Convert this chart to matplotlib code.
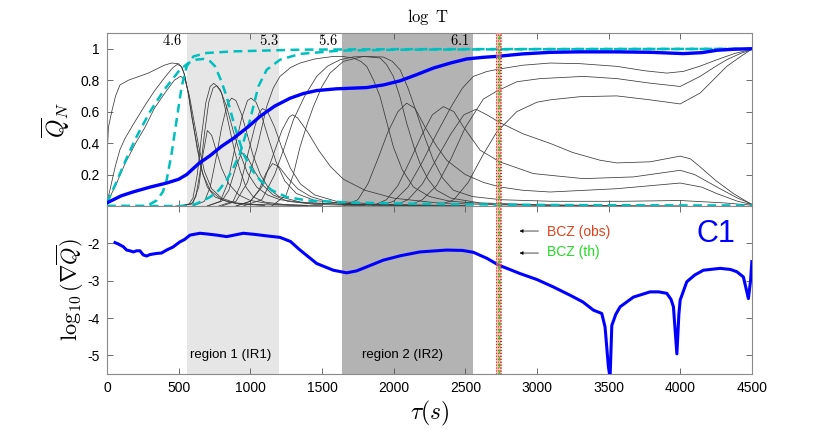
import numpy as np
import matplotlib.pyplot as plt

plt.rcParams['font.family'] = ['Liberation Sans', 'DejaVu Sans']
plt.rcParams['mathtext.fontset'] = 'cm'

# mean Q (thick blue), top panel
mean_tau = [0, 100, 184, 300, 416, 500, 556, 640, 719, 800, 882, 980, 1068, 1170, 1277,
            1370, 1463, 1600, 1812, 1930, 2045, 2160, 2277, 2400, 2510, 2620, 2730, 2900,
            3092, 3300, 3557, 3800, 4021, 4150, 4255, 4380, 4500]
mean_q = [0.02, 0.065, 0.09, 0.12, 0.146, 0.17, 0.20, 0.27, 0.32, 0.38, 0.43, 0.50, 0.57,
          0.635, 0.685, 0.715, 0.734, 0.745, 0.753, 0.77, 0.796, 0.835, 0.877, 0.91, 0.935,
          0.945, 0.952, 0.967, 0.977, 0.98, 0.98, 0.977, 0.969, 0.975, 0.99, 0.997, 1.0]

# cyan dashed curves
cyan1 = [(0, 0.02), (60, 0.14), (130, 0.29), (200, 0.43), (300, 0.6), (400, 0.74),
         (509, 0.867), (568, 0.909), (620, 0.93), (672, 0.935), (720, 0.92), (754, 0.888),
         (795, 0.8), (835, 0.696), (890, 0.51), (951, 0.334), (1010, 0.23), (1068, 0.164),
         (1150, 0.1), (1254, 0.057), (1400, 0.035), (1700, 0.022), (2100, 0.015),
         (2600, 0.01), (3200, 0.006), (4000, 0.004), (4500, 0.003)]
cyan2 = [(0, 0.0), (277, 0.0), (347, 0.036), (390, 0.09), (416, 0.164), (451, 0.334),
         (486, 0.547), (521, 0.76), (556, 0.888), (603, 0.951), (696, 0.973), (882, 0.983),
         (1347, 0.994), (2000, 0.997), (3000, 0.998), (4500, 0.999)]
cyan3 = [(0, 0.0), (560, 0.0), (626, 0.015), (719, 0.057), (780, 0.1), (835, 0.164),
         (880, 0.24), (928, 0.334), (998, 0.547), (1056, 0.76), (1114, 0.866), (1207, 0.93),
         (1347, 0.967), (1626, 0.988), (2045, 0.994), (3000, 0.997), (4500, 0.999)]

# thin black curves, (tau, Q) pairs
k01 = [(0, 0.3), (10, 0.5), (33, 0.6), (60, 0.7), (91, 0.77), (150, 0.8), (288, 0.845),
       (400, 0.895), (451, 0.909), (498, 0.905), (525, 0.88), (544, 0.82), (570, 0.7),
       (591, 0.568), (630, 0.38), (661, 0.227), (700, 0.12), (754, 0.057), (850, 0.025),
       (1000, 0.01), (1400, 0.002)]
k02 = [(0, 0.02), (60, 0.26), (91, 0.36), (126, 0.43), (184, 0.52), (265, 0.64), (330, 0.73),
       (405, 0.82), (460, 0.88), (490, 0.9), (515, 0.89), (540, 0.84), (565, 0.73),
       (600, 0.53), (630, 0.36), (670, 0.2), (720, 0.1), (800, 0.04), (900, 0.015),
       (1100, 0.004)]
k03 = [(0, 0.02), (60, 0.13), (126, 0.27), (200, 0.4), (265, 0.5), (330, 0.62), (405, 0.72),
       (470, 0.8), (515, 0.825), (545, 0.8), (575, 0.7), (605, 0.55), (640, 0.38),
       (680, 0.22), (730, 0.11), (800, 0.05), (900, 0.018), (1100, 0.004)]
k04 = [(480, 0.0), (570, 0.01), (600, 0.05), (630, 0.2), (660, 0.45), (690, 0.66), (720, 0.76),
       (745, 0.78), (770, 0.76), (800, 0.717), (830, 0.6), (858, 0.483), (890, 0.35),
       (928, 0.227), (970, 0.12), (1021, 0.057), (1100, 0.025), (1250, 0.008), (1500, 0.002)]
k05 = [(500, 0.0), (590, 0.012), (620, 0.06), (650, 0.22), (680, 0.46), (710, 0.66),
       (740, 0.75), (765, 0.765), (790, 0.74), (835, 0.63), (880, 0.48), (928, 0.334),
       (980, 0.21), (1045, 0.12), (1120, 0.07), (1207, 0.04), (1400, 0.018), (1800, 0.007),
       (2500, 0.002)]
k06 = [(520, 0.0), (600, 0.02), (640, 0.12), (670, 0.33), (700, 0.48), (730, 0.45),
       (760, 0.36), (800, 0.24), (850, 0.14), (920, 0.07), (1000, 0.035), (1150, 0.012),
       (1400, 0.003)]
k07 = [(600, 0.0), (680, 0.03), (720, 0.12), (760, 0.3), (800, 0.5), (840, 0.65), (870, 0.686),
       (900, 0.67), (940, 0.58), (980, 0.45), (1020, 0.32), (1070, 0.2), (1130, 0.11),
       (1200, 0.06), (1350, 0.025), (1700, 0.008), (2300, 0.002)]
k08 = [(700, 0.0), (790, 0.03), (840, 0.14), (890, 0.36), (940, 0.56), (980, 0.67),
       (1005, 0.686), (1040, 0.66), (1080, 0.57), (1130, 0.42), (1180, 0.28), (1240, 0.16),
       (1320, 0.08), (1450, 0.035), (1700, 0.012), (2200, 0.003)]
k09 = [(780, 0.0), (880, 0.03), (930, 0.13), (980, 0.32), (1030, 0.5), (1060, 0.59),
       (1085, 0.62), (1120, 0.6), (1170, 0.5), (1220, 0.37), (1280, 0.24), (1350, 0.14),
       (1450, 0.07), (1600, 0.03), (1900, 0.01), (2500, 0.002)]
k10 = [(700, 0.0), (800, 0.03), (850, 0.1), (900, 0.25), (940, 0.34), (980, 0.31),
       (1030, 0.22), (1090, 0.13), (1160, 0.07), (1260, 0.03), (1450, 0.01), (1800, 0.002)]
k11 = [(900, 0.0), (1000, 0.03), (1060, 0.1), (1110, 0.21), (1155, 0.27), (1200, 0.25),
       (1260, 0.18), (1330, 0.11), (1420, 0.06), (1550, 0.025), (1800, 0.008), (2300, 0.002)]
k12 = [(900, 0.0), (1000, 0.03), (1080, 0.12), (1150, 0.3), (1220, 0.48), (1270, 0.565),
       (1295, 0.58), (1330, 0.56), (1400, 0.47), (1480, 0.35), (1560, 0.25), (1650, 0.17),
       (1800, 0.1), (2000, 0.05), (2300, 0.02), (2700, 0.008), (3200, 0.002)]
k13 = [(800, 0.0), (900, 0.03), (980, 0.15), (1050, 0.38), (1114, 0.632), (1160, 0.75),
       (1207, 0.824), (1280, 0.88), (1347, 0.909), (1450, 0.935), (1579, 0.951), (1650, 0.95),
       (1719, 0.941), (1770, 0.92), (1812, 0.888), (1860, 0.8), (1905, 0.696), (1950, 0.54),
       (1998, 0.376), (2060, 0.23), (2138, 0.121), (2250, 0.06), (2394, 0.03), (2700, 0.012),
       (3200, 0.004), (4000, 0.001)]
k14 = [(950, 0.0), (1080, 0.04), (1170, 0.2), (1240, 0.38), (1300, 0.547), (1380, 0.7),
       (1463, 0.824), (1540, 0.89), (1626, 0.93), (1720, 0.948), (1812, 0.951), (1928, 0.947),
       (1990, 0.92), (2045, 0.866), (2100, 0.75), (2161, 0.59), (2220, 0.43), (2277, 0.291),
       (2340, 0.18), (2417, 0.1), (2550, 0.06), (2750, 0.04), (3100, 0.03), (3600, 0.03),
       (4000, 0.035), (4300, 0.02), (4500, 0.005)]
k15 = [(1150, 0.0), (1250, 0.07), (1300, 0.2), (1347, 0.376), (1400, 0.53), (1440, 0.632),
       (1500, 0.76), (1556, 0.845), (1650, 0.92), (1789, 0.951), (1905, 0.941), (1950, 0.9),
       (1998, 0.824), (2045, 0.69), (2091, 0.526), (2140, 0.38), (2184, 0.27), (2240, 0.17),
       (2300, 0.1), (2400, 0.05), (2600, 0.02), (3000, 0.008), (3600, 0.003)]
k16 = [(1650, 0.0), (1750, 0.04), (1820, 0.14), (1890, 0.3), (1960, 0.47), (2030, 0.6),
       (2091, 0.654), (2150, 0.62), (2220, 0.5), (2300, 0.38), (2370, 0.291), (2500, 0.2),
       (2626, 0.15), (2742, 0.121), (2900, 0.1), (3092, 0.089), (3557, 0.11), (3999, 0.146),
       (4150, 0.12), (4255, 0.079), (4400, 0.03), (4500, 0.009)]
k17 = [(1850, 0.0), (1950, 0.04), (2030, 0.13), (2110, 0.28), (2190, 0.44), (2270, 0.58),
       (2347, 0.632), (2420, 0.6), (2486, 0.504), (2603, 0.355), (2742, 0.28), (2975, 0.206),
       (3324, 0.174), (3673, 0.185), (3999, 0.227), (4100, 0.2), (4255, 0.121), (4400, 0.05),
       (4500, 0.012)]
k18 = [(2000, 0.0), (2100, 0.04), (2200, 0.14), (2300, 0.3), (2400, 0.46), (2490, 0.58),
       (2575, 0.615), (2650, 0.58), (2742, 0.53), (2900, 0.46), (3092, 0.398), (3250, 0.34),
       (3440, 0.291), (3557, 0.274), (3789, 0.281), (3999, 0.317), (4070, 0.3), (4138, 0.249),
       (4250, 0.16), (4371, 0.079), (4487, 0.015)]
k19 = [(1900, 0.0), (2000, 0.03), (2100, 0.12), (2200, 0.28), (2300, 0.46), (2400, 0.63),
       (2480, 0.75), (2556, 0.824), (2650, 0.855), (2731, 0.87), (2900, 0.895), (3092, 0.909),
       (3300, 0.905), (3557, 0.888), (3750, 0.86), (3906, 0.845), (4022, 0.856), (4140, 0.89),
       (4255, 0.93), (4380, 0.97), (4487, 0.994)]
k20 = [(2100, 0.0), (2200, 0.04), (2300, 0.13), (2400, 0.3), (2500, 0.5), (2626, 0.68),
       (2719, 0.73), (2859, 0.79), (3022, 0.81), (3324, 0.824), (3557, 0.81), (3789, 0.781),
       (3999, 0.76), (4138, 0.824), (4250, 0.89), (4324, 0.93), (4420, 0.97), (4487, 0.99)]
k21 = [(2300, 0.0), (2420, 0.04), (2520, 0.15), (2620, 0.32), (2719, 0.47), (2859, 0.6),
       (3000, 0.66), (3092, 0.675), (3300, 0.695), (3557, 0.70), (3789, 0.675), (3999, 0.649),
       (4138, 0.718), (4250, 0.82), (4324, 0.888), (4420, 0.95), (4487, 0.99)]
thin_curves = [k01, k02, k03, k04, k05, k06, k07, k08, k09, k10, k11, k12, k13, k14, k15,
               k16, k17, k18, k19, k20, k21]

# gradient, bottom panel
grad_tau = [56, 80, 114, 137, 160, 184, 207, 230, 253, 277, 300, 347, 380, 416, 460, 509, 540,
            579, 649, 700, 766, 835, 900, 951, 1030, 1114, 1207, 1280, 1347, 1463, 1579, 1672,
            1740, 1812, 1928, 2050, 2184, 2370, 2480, 2556, 2650, 2731, 2882, 3000, 3115, 3231,
            3320, 3394, 3440, 3452, 3475, 3498, 3510, 3522, 3550, 3580, 3673, 3789, 3850, 3906,
            3935, 3952, 3976, 3990, 3999, 4045, 4100, 4161, 4278, 4350, 4394, 4440, 4475, 4490,
            4499]
grad_log = [-1.98, -2.02, -2.09, -2.18, -2.2, -2.23, -2.2, -2.2, -2.31, -2.34, -2.3, -2.27,
            -2.26, -2.18, -2.1, -1.96, -1.9, -1.78, -1.73, -1.75, -1.78, -1.82, -1.77, -1.73,
            -1.76, -1.80, -1.84, -1.95, -2.18, -2.54, -2.72, -2.79, -2.74, -2.63, -2.45, -2.33,
            -2.23, -2.18, -2.19, -2.24, -2.4, -2.58, -2.81, -2.97, -3.17, -3.39, -3.57, -3.79,
            -3.86, -3.88, -4.24, -5.3, -5.6, -4.2, -3.9, -3.70, -3.44, -3.30, -3.3, -3.34, -3.5,
            -3.70, -4.96, -3.9, -3.52, -3.03, -2.85, -2.72, -2.67, -2.7, -2.76, -2.9, -3.48,
            -3.0, -2.49]

region1 = (556, 1202)
region2 = (1637, 2552)
bcz_obs = (2712, 2752)
bcz_th = 2732
logT_labels = ['4.6', '5.3', '5.6', '6.1']
logT_pos = [521, 1200, 1612, 2526]

fig = plt.figure(figsize=(8.3, 4.29), dpi=100)
ax1 = fig.add_axes([0.1289, 0.5198, 0.7771, 0.4033])
ax2 = fig.add_axes([0.1289, 0.1282, 0.7771, 0.3916], sharex=ax1)

for ax in (ax1, ax2):
    ax.axvspan(*region1, color='#e6e6e6', lw=0, zorder=0)
    ax.axvspan(*region2, color='#b3b3b3', lw=0, zorder=0)

for c in thin_curves:
    t, q = zip(*c)
    ax1.plot(t, q, color='#3a3a3a', lw=0.55, zorder=2)
for c in (cyan1, cyan2, cyan3):
    t, q = zip(*c)
    ax1.plot(t, q, color='#00bfbf', lw=1.8, ls=(0, (3.5, 2.2)), zorder=3)
ax1.plot(mean_tau, mean_q, color='#0000ff', lw=2.4, zorder=4)

ax2.plot(grad_tau, grad_log, color='#0000ff', lw=2.2, zorder=4)

for ax in (ax1, ax2):
    ax.axvspan(*bcz_obs, color='#f4a090', alpha=0.6, lw=0, zorder=5)
    for x in np.linspace(bcz_obs[0], bcz_obs[1], 4):
        ax.axvline(x, color='#e02020', lw=0.8, ls=':', zorder=6)
    ax.axvline(bcz_th, color='#22dd22', lw=1.0, ls=(0, (3, 2)), zorder=7)

ax1.set_xlim(0, 4500)
ax1.set_ylim(0, 1.1)
ax1.set_yticks([0.2, 0.4, 0.6, 0.8, 1])
ax1.set_yticklabels(['0.2', '0.4', '0.6', '0.8', '1'])
ax2.set_ylim(-5.5, -1)
ax2.set_yticks([-5, -4, -3, -2])
ax2.set_yticklabels(['-5', '-4', '-3', '-2'])
ax2.set_xticks(np.arange(0, 4501, 500))

for ax in (ax1, ax2):
    ax.tick_params(direction='in', top=True, right=True, length=4, width=0.6,
                   color='#555555', labelsize=10, pad=5)
    for s in ax.spines.values():
        s.set_color('#8a8a8a')
        s.set_linewidth(0.8)
plt.setp(ax1.get_xticklabels(), visible=False)

ax1.set_ylabel(r'$\overline{Q}_N$', fontsize=17, labelpad=6)
ax2.set_ylabel(r'$\log_{10}(\nabla\overline{Q})$', fontsize=16, labelpad=1)
ax2.set_xlabel(r'$\tau(s)$', fontsize=17, labelpad=3)

for lab, x in zip(logT_labels, logT_pos):
    ax1.text(x, 1.052, '$' + lab + '$', ha='right', va='center', fontsize=10.5)
ax1.text(2240, 1.2, r'$\log\ \mathrm{T}$', ha='center', va='center', fontsize=12,
         clip_on=False)

ax2.text(865, -5.0, 'region 1 (IR1)', ha='center', va='center', fontsize=9.5)
ax2.text(2063, -5.0, 'region 2 (IR2)', ha='center', va='center', fontsize=9.5)

ax2.annotate('', xy=(2859, -1.67), xytext=(3030, -1.67),
             arrowprops=dict(arrowstyle='-|>', color='k', lw=0.5, mutation_scale=5))
ax2.annotate('', xy=(2859, -2.26), xytext=(3030, -2.26),
             arrowprops=dict(arrowstyle='-|>', color='k', lw=0.5, mutation_scale=5))
ax2.text(3068, -1.70, 'BCZ (obs)', color='#e5401a', ha='left', va='center', fontsize=10)
ax2.text(3068, -2.24, 'BCZ (th)', color='#22dd22', ha='left', va='center', fontsize=10)
ax2.text(4250, -1.76, 'C1', color='#0000ff', ha='center', va='center', fontsize=22)

fig.savefig('out.png', dpi=100)
